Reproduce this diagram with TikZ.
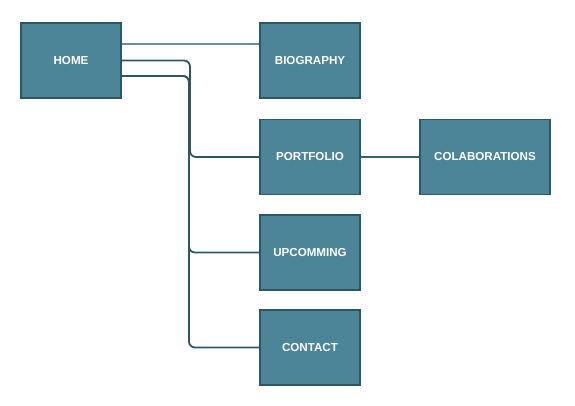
\documentclass[tikz,border=0pt]{standalone}
\usepackage{fontspec}
\setmainfont{Liberation Sans}
\begin{document}
\begin{tikzpicture}[x=1pt,y=-1pt,
  box/.style={draw=boxline,fill=boxfill,line width=1.6pt,minimum width=100pt,minimum height=75pt,
    text=white,font=\fontsize{11.6}{13}\selectfont\bfseries,inner sep=0pt},
  wide/.style={minimum width=130pt},
  link/.style={draw=boxline,line width=1.8pt,rounded corners=6pt},
  lightlink/.style={draw=lightline,line width=1.8pt}]
\definecolor{boxfill}{HTML}{4B8597}
\definecolor{boxline}{HTML}{2E5766}
\definecolor{lightline}{HTML}{6F8E9B}
\useasboundingbox (0,0) rectangle (575,405);
\node[box] (home) at (71,60.5) {HOME};
\node[box] (bio) at (310,60.5) {BIOGRAPHY};
\node[box] (port) at (310,157) {PORTFOLIO};
\node[box,wide] (colab) at (485,157) {COLABORATIONS};
\node[box] (up) at (310,252.5) {UPCOMMING};
\node[box] (contact) at (310,347.5) {CONTACT};
\draw[lightlink] ([yshift=16.5pt]home.east) -- ([yshift=16.5pt]bio.west);
\draw[link] (home.east) -- (190,60.5) -- (190,157) -- (port.west);
\draw[link] ([yshift=-15.5pt]home.east) -- (189,76) -- (189,252.5) -- (up.west);
\draw[link] ([yshift=-15.5pt]home.east) -- (189,76) -- (189,347.5) -- (contact.west);
\draw[lightlink,draw=boxline!85!lightline] (port.east) -- (colab.west);
\end{tikzpicture}
\end{document}
